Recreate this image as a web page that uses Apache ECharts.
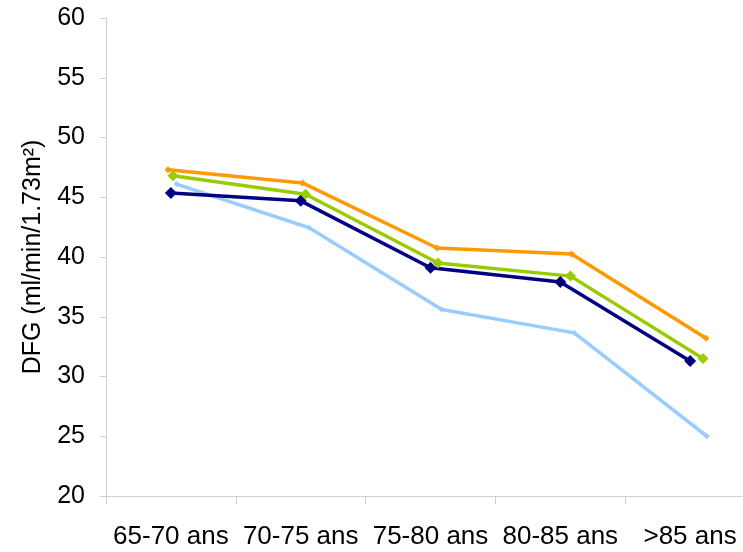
<!DOCTYPE html>
<html>
<head>
<meta charset="utf-8">
<script src="https://cdn.jsdelivr.net/npm/echarts@6/dist/echarts.min.js"></script>
<style>
  html, body { margin: 0; padding: 0; background: #ffffff; }
  #chart { width: 743px; height: 552px; }
</style>
</head>
<body>
<div id="chart"></div>
<script>
// Age groups and GFR values (ml/min/1.73m²)
const categories = ['65-70 ans', '70-75 ans', '75-80 ans', '80-85 ans', '>85 ans'];
const yMin = 20;
const yMax = 60;
const yStep = 5;
const axisTitle = 'DFG (ml/min/1.73m\u00B2)';

const orangeValues = [47.3, 46.2, 40.75, 40.25, 33.2];
const greenValues = [46.8, 45.25, 39.5, 38.4, 31.5];
const navyValues = [45.35, 44.7, 39.1, 37.9, 31.3];
const lightBlueValues = [46.1, 42.45, 35.6, 33.65, 25.0];

const FONT = '"Liberation Sans", Arial, sans-serif';
const AXIS_GRAY = '#cfcfcf';
const TOP = 18, HEIGHT = 478;

// Each series sits on its own category band (slightly shifted/stretched);
// the bands run past the right edge of the canvas, so no outer-bounds fitting.
const grids = [
  { left: 106, top: TOP, width: 649, height: HEIGHT },      // visible axes + navy
  { left: 100.75, top: TOP, width: 672.5, height: HEIGHT }, // orange
  { left: 106.75, top: TOP, width: 662.5, height: HEIGHT }, // green
  { left: 110.2, top: TOP, width: 663, height: HEIGHT }     // light blue
].map(g => Object.assign({ outerBoundsMode: 'none', containLabel: false }, g));

const xAxes = grids.map((g, i) => ({
  type: 'category',
  gridIndex: i,
  data: categories,
  boundaryGap: true,
  show: i === 0,
  axisLine: { show: true, lineStyle: { color: AXIS_GRAY, width: 1 } },
  axisTick: { show: true, length: 8, lineStyle: { color: AXIS_GRAY } },
  axisLabel: { fontSize: 26, color: '#000', fontFamily: FONT, margin: 28, interval: 0 },
  splitLine: { show: false }
}));

const yAxes = grids.map((g, i) => ({
  type: 'value',
  gridIndex: i,
  min: yMin,
  max: yMax,
  interval: yStep,
  show: i === 0,
  name: i === 0 ? axisTitle : '',
  nameLocation: 'middle',
  nameGap: 60,
  nameTextStyle: { fontSize: 25, color: '#000', fontFamily: FONT },
  axisLine: { show: true, lineStyle: { color: AXIS_GRAY, width: 1 } },
  axisTick: { show: true, length: 6, lineStyle: { color: AXIS_GRAY } },
  axisLabel: { fontSize: 25, color: '#000', fontFamily: FONT, margin: 21 },
  splitLine: { show: false }
}));

function lineSeries(name, values, color, symbolSize, axisIndex) {
  return {
    name: name,
    type: 'line',
    xAxisIndex: axisIndex,
    yAxisIndex: axisIndex,
    data: values,
    symbol: 'diamond',
    symbolSize: symbolSize,
    showSymbol: true,
    lineStyle: { color: color, width: 3.5 },
    itemStyle: { color: color, borderWidth: 0 },
    animation: false
  };
}

const chart = echarts.init(document.getElementById('chart'), null, { renderer: 'canvas' });
chart.setOption({
  backgroundColor: '#ffffff',
  animation: false,
  textStyle: { fontFamily: FONT },
  grid: grids,
  xAxis: xAxes,
  yAxis: yAxes,
  series: [
    lineSeries('lightblue', lightBlueValues, '#99ccff', 6, 3),
    lineSeries('navy', navyValues, '#000080', 12, 0),
    lineSeries('green', greenValues, '#99cc00', 11, 2),
    lineSeries('orange', orangeValues, '#ff9900', 7, 1)
  ]
});
</script>
</body>
</html>
